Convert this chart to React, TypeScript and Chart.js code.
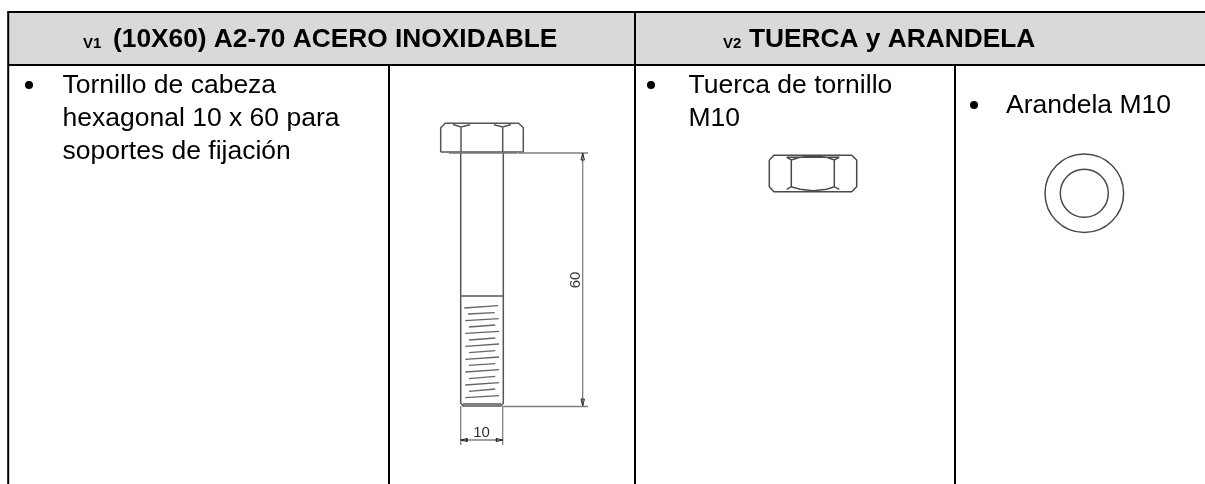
import React, { useEffect, useRef } from "react";
import { Chart, registerables } from "chart.js";

Chart.register(...registerables);

type P = [number, number];

const headerBand: P[] = [[8, 12], [1205, 12]];
const tableLines: P[][] = [
  [[8, 12], [1205, 12]],
  [[8, 65], [1205, 65]],
  [[8.2, 11], [8.2, 484]],
  [[389, 65], [389, 484]],
  [[635, 12], [635, 484]],
  [[955, 65], [955, 484]],
];
const boltOutline: P[][] = [
  [[440.7, 152], [440.7, 127.7], [445.3, 123.3], [518.7, 123.3], [523.3, 127.7], [523.3, 152], [440.7, 152]],
  [[461, 127], [461, 152]],
  [[502.7, 127], [502.7, 152]],
  [[453, 124.5], [461, 127], [470, 124.7]],
  [[494, 124.7], [502.7, 127], [511, 124.5]],
  [[460.7, 153], [460.7, 403.3], [463.3, 406], [500.7, 406], [503.3, 403.3], [503.3, 153]],
  [[460.7, 296], [503, 296]],
  [[463, 404], [501, 404]],
];
const boltWasher: P[][] = [[[449, 152.8], [517, 152.8]]];
const threadLines: P[][] = [
  [[464.3, 308], [498, 305.7]],
  [[468, 314], [494.7, 312.7]],
  [[465.3, 320.7], [498.7, 318.7]],
  [[469, 327], [495.3, 325]],
  [[465.3, 333.3], [499, 331.3]],
  [[469, 340], [495.3, 338]],
  [[465.3, 346.3], [499, 344]],
  [[469, 352.7], [495.3, 350.7]],
  [[465.3, 359.3], [499, 357]],
  [[469, 365.3], [495.3, 363.7]],
  [[465.3, 372], [499, 369.7]],
  [[469, 378.7], [495.3, 376.3]],
  [[465.3, 385], [499, 382.7]],
  [[469, 391.3], [495.3, 389]],
  [[465.3, 397.7], [499, 395.7]],
];
const dimensionLines: P[][] = [
  [[518, 153], [588, 153]],
  [[503, 406.5], [588, 406.5]],
  [[582.7, 153], [582.7, 406]],
  [[460.7, 406], [460.7, 445]],
  [[502.7, 406], [502.7, 445]],
  [[460.7, 440], [502.7, 440]],
];
const arrowHeads: P[][] = [
  [[582.7, 153], [581, 160], [584.4, 160], [582.7, 153]],
  [[582.7, 406], [581, 399], [584.4, 399], [582.7, 406]],
  [[460.7, 440], [467, 438.5], [467, 441.5], [460.7, 440]],
  [[502.7, 440], [496.4, 438.5], [496.4, 441.5], [502.7, 440]],
];
const nutOutline: P[][] = [
  [[769.3, 160], [774, 155.3], [851.7, 155.3], [856.7, 160], [856.7, 186.7], [851.7, 191.7], [774, 191.7], [769.3, 186.7], [769.3, 160]],
  [[791.3, 160], [791.3, 186.7]],
  [[834.3, 160], [834.3, 186.7]],
  [[786.7, 157.3], [791.3, 160], [800, 157.3], [813.3, 156], [826.7, 157.3], [834.3, 160], [839.3, 157.3]],
  [[786.7, 189.3], [791.3, 186.7], [800, 189.3], [813.3, 190.7], [826.7, 189.3], [834.3, 186.7], [839.3, 189.3]],
  [[786.7, 157.3], [839.3, 157.3]],
];
const washerCentre: P = [1084.3, 193.3];
const washerRadii = [39.3, 24];

const headerLabels = ["(10X60) A2-70 ACERO INOXIDABLE", "TUERCA y ARANDELA"];
const headerSubscripts = ["V1", "V2"];
const bodyLabels = ["Tornillo de cabeza", "hexagonal 10 x 60 para", "soportes de fijación", "Tuerca de tornillo", "M10", "Arandela M10"];
const bulletAnchors: P[] = [[29, 85], [651, 85], [974, 105]];

const headerPositions: P[] = [[113, 47], [749, 47]];
const subscriptPositions: P[] = [[83, 48], [723, 48]];
const bodyPositions: P[] = [[62.5, 93], [62.5, 125.5], [62.5, 159], [688.5, 93], [688.5, 125.5], [1006, 113]];
const dimTenPosition: P = [481.5, 437.3];
const dimSixtyPosition: P = [580, 280];

const flatten = (paths: P[][]) => {
  const out: { x: number; y: number }[] = [];
  paths.forEach((p) => {
    p.forEach(([x, y]) => out.push({ x, y }));
    out.push({ x: NaN, y: NaN });
  });
  return out;
};

const lineSet = (paths: P[][], color: string, width: number) => ({
  type: "line" as const,
  data: flatten(paths),
  borderColor: color,
  borderWidth: width,
  pointRadius: 0,
  tension: 0,
  fill: false,
  spanGaps: false,
});

const textPlugin = {
  id: "tableText",
  afterDatasetsDraw(chart: any) {
    const { ctx, scales } = chart;
    const px = ([x, y]: P): P => [scales.x.getPixelForValue(x), scales.y.getPixelForValue(y)];
    ctx.save();
    ctx.fillStyle = "#000";
    ctx.textBaseline = "alphabetic";
    ctx.textAlign = "left";
    ctx.font = 'bold 26.3px "Liberation Sans"';
    headerLabels.forEach((t, i) => {
      const [x, y] = px(headerPositions[i]);
      ctx.fillText(t, x, y);
    });
    ctx.font = 'bold 15px "Liberation Sans"';
    headerSubscripts.forEach((t, i) => {
      const [x, y] = px(subscriptPositions[i]);
      ctx.fillText(t, x, y);
    });
    ctx.font = '26.5px "Liberation Sans"';
    bodyLabels.forEach((t, i) => {
      const [x, y] = px(bodyPositions[i]);
      ctx.fillText(t, x, y);
    });
    ctx.fillStyle = "#333";
    ctx.font = '15px "Liberation Sans"';
    ctx.textAlign = "center";
    const [tx, ty] = px(dimTenPosition);
    ctx.fillText("10", tx, ty);
    const [rx, ry] = px(dimSixtyPosition);
    ctx.translate(rx, ry);
    ctx.rotate(-Math.PI / 2);
    ctx.fillText("60", 0, 0);
    ctx.restore();
  },
};

export default function App() {
  const ref = useRef<HTMLCanvasElement>(null);
  useEffect(() => {
    document.body.style.margin = "0";
    const chart = new Chart(ref.current!, {
      type: "scatter",
      data: {
        datasets: [
          lineSet(tableLines, "#000", 2),
          {
            type: "scatter",
            data: bulletAnchors.map(([x, y]) => ({ x, y })),
            pointRadius: 4,
            pointBackgroundColor: "#000",
            pointBorderWidth: 0,
          },
          {
            type: "scatter",
            data: washerRadii.map(() => ({ x: washerCentre[0], y: washerCentre[1] })),
            pointRadius: washerRadii,
            pointStyle: "circle",
            pointBackgroundColor: "transparent",
            pointBorderColor: "#4a4a4a",
            pointBorderWidth: 1.5,
          },
          lineSet(nutOutline, "#4a4a4a", 1.5),
          lineSet(arrowHeads, "#222", 1),
          lineSet(dimensionLines, "#808080", 1.3),
          lineSet(threadLines, "#666", 1.3),
          lineSet(boltWasher, "#777", 2),
          lineSet(boltOutline, "#555", 1.5),
          { type: "line", data: headerBand.map(([x, y]) => ({ x, y })), borderWidth: 0, pointRadius: 0, backgroundColor: "#d9d9d9", fill: { value: 65 } },
        ] as any,
      },
      options: {
        animation: false,
        responsive: false,
        layout: { padding: 0, autoPadding: false },
        plugins: { legend: { display: false }, tooltip: { enabled: false } },
        scales: {
          x: { type: "linear", min: 0, max: 1205, display: false },
          y: { type: "linear", min: 0, max: 484, reverse: true, display: false },
        },
      },
      plugins: [textPlugin],
    });
    return () => chart.destroy();
  }, []);
  return <canvas ref={ref} width={1205} height={484} style={{ display: "block" }} />;
}
